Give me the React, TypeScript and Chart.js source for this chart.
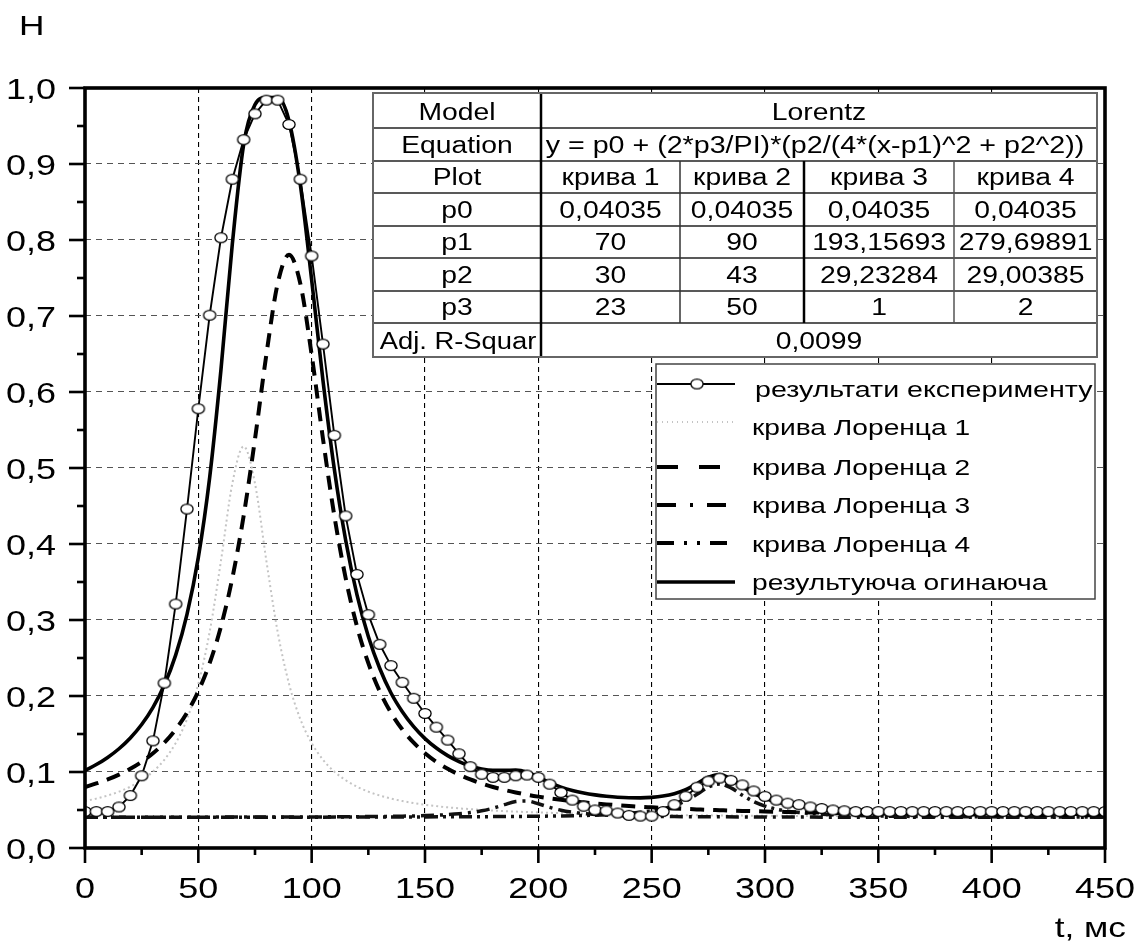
import React, { useEffect, useRef } from "react";
import { Chart, registerables } from "chart.js";

Chart.register(...registerables);

const FONT = '"Liberation Sans", Arial, Helvetica, sans-serif';
const SX = 1.26; // horizontal stretch of the reference lettering

// ---- data ----
const tGrid = [0,5,10,15,20,25,30,35,40,45,50,55,60,65,70,75,80,85,90,95,100,105,110,115,120,125,130,135,140,145,150,155,160,165,170,175,180,185,190,195,200,205,210,215,220,225,230,235,240,245,250,255,260,265,270,275,280,285,290,295,300,305,310,315,320,325,330,335,340,345,350,355,360,365,370,375,380,385,390,395,400,405,410,415,420,425,430,435,440,445,450];

const experimentH = [
  0.048,0.048,0.048,0.054,0.069,0.095,0.141,0.217,0.321,0.446,
  0.578,0.701,0.803,0.880,0.932,0.966,0.984,0.984,0.952,0.880,
  0.779,0.663,0.543,0.437,0.360,0.307,0.268,0.240,0.218,0.197,
  0.177,0.159,0.142,0.124,0.107,0.097,0.093,0.093,0.095,0.096,
  0.093,0.084,0.073,0.063,0.055,0.050,0.049,0.046,0.043,0.042,
  0.042,0.048,0.057,0.068,0.080,0.088,0.092,0.089,0.083,0.075,
  0.068,0.063,0.059,0.057,0.054,0.052,0.050,0.049,0.048,0.048,
  0.048,0.048,0.048,0.048,0.048,0.048,0.048,0.048,0.048,0.048,
  0.048,0.048,0.048,0.048,0.048,0.048,0.048,0.048,0.048,0.048,
  0.048
];

const lorentz1H = [
  0.0618,0.0650,0.0691,0.0741,0.0807,0.0892,0.1005,0.1161,0.1380,0.1695,
  0.2161,0.2844,0.3782,0.4796,0.5284,0.4796,0.3782,0.2844,0.2161,0.1695,
  0.1380,0.1161,0.1005,0.0892,0.0807,0.0741,0.0691,0.0650,0.0618,0.0591,
  0.0569,0.0551,0.0535,0.0522,0.0511,0.0501,0.0493,0.0485,0.0479,0.0473,
  0.0468,0.0463,0.0459,0.0455,0.0452,0.0449,0.0446,0.0444,0.0441,0.0439,
  0.0437,0.0436,0.0434,0.0432,0.0431,0.0430,0.0428,0.0427,0.0426,0.0425,
  0.0424,0.0423,0.0423,0.0422,0.0421,0.0420,0.0420,0.0419,0.0419,0.0418,
  0.0417,0.0417,0.0417,0.0416,0.0416,0.0415,0.0415,0.0415,0.0414,0.0414,
  0.0414,0.0413,0.0413,0.0413,0.0412,0.0412,0.0412,0.0412,0.0411,0.0411,
  0.0411
];

const lorentz2H = [
  0.0803,0.0849,0.0902,0.0966,0.1042,0.1134,0.1246,0.1385,0.1559,0.1779,
  0.2063,0.2432,0.2915,0.3551,0.4372,0.5382,0.6489,0.7426,0.7806,0.7426,
  0.6489,0.5382,0.4372,0.3551,0.2915,0.2432,0.2063,0.1779,0.1559,0.1385,
  0.1246,0.1134,0.1042,0.0966,0.0902,0.0849,0.0803,0.0764,0.0731,0.0701,
  0.0676,0.0654,0.0634,0.0616,0.0601,0.0587,0.0574,0.0563,0.0553,0.0543,
  0.0535,0.0527,0.0520,0.0514,0.0508,0.0502,0.0497,0.0492,0.0488,0.0484,
  0.0480,0.0477,0.0474,0.0471,0.0468,0.0465,0.0462,0.0460,0.0458,0.0456,
  0.0454,0.0452,0.0450,0.0449,0.0447,0.0445,0.0444,0.0443,0.0441,0.0440,
  0.0439,0.0438,0.0437,0.0436,0.0435,0.0434,0.0433,0.0432,0.0431,0.0431,
  0.0430
];

const lorentz3T = [0,50,100,120,130,140,145,150,155,160,165,170,175,180,185,190,195,200,205,210,215,220,225,230,235,240,250,260,280,300,350,400,450];
const lorentz3H = [0.0405,0.0406,0.0409,0.0412,0.0415,0.0419,0.0422,0.0426,0.0431,0.0439,0.0450,0.0466,0.0489,0.0524,0.0570,0.0612,0.0618,0.0582,0.0535,0.0497,0.0471,0.0453,0.0441,0.0433,0.0427,0.0423,0.0417,0.0413,0.0410,0.0408,0.0405,0.0405,0.0404];

const lorentz4T = [0,50,100,150,180,200,210,220,225,230,235,240,245,250,255,260,265,270,275,280,285,290,295,300,305,310,315,320,325,330,340,350,360,380,400,425,450];
const lorentz4H = [0.0405,0.0405,0.0406,0.0409,0.0413,0.0418,0.0422,0.0428,0.0432,0.0438,0.0445,0.0455,0.0469,0.0488,0.0516,0.0558,0.0620,0.0707,0.0801,0.0842,0.0791,0.0695,0.0611,0.0552,0.0512,0.0485,0.0467,0.0454,0.0444,0.0437,0.0428,0.0421,0.0417,0.0412,0.0410,0.0408,0.0407];

const envelopeH = [
  0.1020,0.1098,0.1192,0.1306,0.1448,0.1625,0.1851,0.2145,0.2538,0.3075,
  0.3824,0.4876,0.6299,0.7948,0.9258,0.9781,0.9874,0.9873,0.9570,0.8726,
  0.7474,0.6149,0.4983,0.4050,0.3330,0.2783,0.2365,0.2039,0.1793,0.1596,
  0.1439,0.1315,0.1215,0.1137,0.1079,0.1040,0.1022,0.1022,0.1025,0.0998,
  0.0933,0.0860,0.0801,0.0756,0.0723,0.0699,0.0681,0.0668,0.0661,0.0660,
  0.0666,0.0683,0.0715,0.0767,0.0846,0.0932,0.0967,0.0909,0.0807,0.0718,
  0.0653,0.0609,0.0578,0.0555,0.0538,0.0525,0.0515,0.0506,0.0499,0.0493,
  0.0488,0.0483,0.0479,0.0475,0.0472,0.0469,0.0466,0.0463,0.0461,0.0458,
  0.0456,0.0454,0.0453,0.0451,0.0449,0.0448,0.0446,0.0445,0.0444,0.0442,
  0.0441
];

// ---- ticks & labels ----
const xTicks = [0,50,100,150,200,250,300,350,400,450];
const xTickLabels = ["0","50","100","150","200","250","300","350","400","450"];
const xMinorTicks = [25,75,125,175,225,275,325,375,425];
const yTicks = [0,0.1,0.2,0.3,0.4,0.5,0.6,0.7,0.8,0.9,1.0];
const yTickLabels = ["0,0","0,1","0,2","0,3","0,4","0,5","0,6","0,7","0,8","0,9","1,0"];
const yMinorTicks = [0.05,0.15,0.25,0.35,0.45,0.55,0.65,0.75,0.85,0.95];
const xAxisTitle = "t, мс";
const yAxisTitle = "H";

const legendLabels = [
  "результати експерименту",
  "крива Лоренца 1",
  "крива Лоренца 2",
  "крива Лоренца 3",
  "крива Лоренца 4",
  "результуюча огинаюча",
];

// ---- fit table ----
const tableRowLabels = ["Model","Equation","Plot","p0","p1","p2","p3","Adj. R-Squar"];
const tableModel = "Lorentz";
const tableEquation = "y = p0 + (2*p3/PI)*(p2/(4*(x-p1)^2 + p2^2))";
const tablePlots = ["крива 1","крива 2","крива 3","крива 4"];
const tableP0 = ["0,04035","0,04035","0,04035","0,04035"];
const tableP1 = ["70","90","193,15693","279,69891"];
const tableP2 = ["30","43","29,23284","29,00385"];
const tableP3 = ["23","50","1","2"];
const tableAdjR = "0,0099";

const pts = (xs: number[], ys: number[]) => xs.map((x, i) => ({ x, y: ys[i] }));

function makeMarker(): HTMLCanvasElement {
  const c = document.createElement("canvas");
  c.width = 16;
  c.height = 13;
  const g = c.getContext("2d")!;
  g.beginPath();
  g.ellipse(8, 6.5, 6.1, 4.9, 0, 0, Math.PI * 2);
  g.fillStyle = "#fff";
  g.fill();
  g.lineWidth = 1.3;
  g.strokeStyle = "#000";
  g.stroke();
  return c;
}

function drawText(ctx: CanvasRenderingContext2D, s: string, x: number, y: number, align: string, size: number, sx: number = SX) {
  ctx.save();
  ctx.font = `${size}px ${FONT}`;
  ctx.textBaseline = "alphabetic";
  ctx.textAlign = "left";
  const w = ctx.measureText(s).width * sx;
  const x0 = align === "left" ? x : align === "right" ? x - w : x - w / 2;
  ctx.translate(x0, y);
  ctx.scale(sx, 1);
  ctx.fillStyle = "#000";
  ctx.fillText(s, 0, 0);
  ctx.restore();
}

function line(ctx: CanvasRenderingContext2D, x1: number, y1: number, x2: number, y2: number) {
  ctx.beginPath();
  ctx.moveTo(x1, y1);
  ctx.lineTo(x2, y2);
  ctx.stroke();
}

const decorPlugin = {
  id: "decor",
  afterDraw(chart: any) {
    const ctx: CanvasRenderingContext2D = chart.ctx;
    const { left, right, top, bottom } = chart.chartArea;
    const xs = chart.scales.x;
    const ys = chart.scales.y;
    ctx.save();
    ctx.setLineDash([]);
    ctx.strokeStyle = "#000";

    // ticks
    ctx.lineWidth = 2.6;
    yTicks.forEach((v) => { const p = ys.getPixelForValue(v); line(ctx, left - 16, p, left, p); });
    yMinorTicks.forEach((v) => { const p = ys.getPixelForValue(v); line(ctx, left - 8, p, left, p); });
    xTicks.forEach((v) => { const p = xs.getPixelForValue(v); line(ctx, p, bottom, p, bottom + 15); });
    xMinorTicks.forEach((v) => { const p = xs.getPixelForValue(v); line(ctx, p, bottom, p, bottom + 7); });

    // frame
    ctx.lineWidth = 3.6;
    ctx.strokeRect(left, top, right - left, bottom - top);

    // tick labels
    yTicks.forEach((v, i) => drawText(ctx, yTickLabels[i], left - 29, ys.getPixelForValue(v) + 10.5, "right", 29, 1.24));
    xTicks.forEach((v, i) => drawText(ctx, xTickLabels[i], xs.getPixelForValue(v), bottom + 50, "center", 29, 1.24));

    // axis titles
    drawText(ctx, yAxisTitle, 19, 35, "left", 28);
    drawText(ctx, xAxisTitle, 1126, 937, "right", 28);

    // ---- table ----
    const colX = [373, 541, 680, 804, 954, 1097];
    const rowY = [93, 128, 161, 193, 226, 258, 291, 323, 357];
    ctx.fillStyle = "#fff";
    ctx.fillRect(colX[0], rowY[0], colX[5] - colX[0], rowY[8] - rowY[0]);
    ctx.strokeStyle = "#222";
    ctx.lineWidth = 1.5;
    for (let r = 1; r < 8; r++) line(ctx, colX[0], rowY[r], colX[5], rowY[r]);
    ctx.lineWidth = 1.5;
    ctx.strokeStyle = "#333";
    line(ctx, colX[2], rowY[2], colX[2], rowY[7]);
    ctx.strokeStyle = "#555";
    line(ctx, colX[4], rowY[2], colX[4], rowY[7]);
    ctx.strokeStyle = "#000";
    ctx.lineWidth = 2.5;
    line(ctx, colX[3], rowY[2], colX[3], rowY[7]);

    const TS = 23;
    const TSX = 1.23;
    const base = (r: number) => rowY[r + 1] - 8.5;
    const cx = (c: number) => (colX[c] + colX[c + 1]) / 2;
    const spanC = (colX[1] + colX[5]) / 2;
    tableRowLabels.forEach((s, r) => drawText(ctx, s, cx(0) + (r === 7 ? 1 : 0), base(r), "center", TS, r === 7 ? 1.19 : TSX));
    drawText(ctx, tableModel, spanC, base(0), "center", TS, TSX);
    drawText(ctx, tableEquation, spanC - 4, base(1), "center", TS, 1.245);
    [tablePlots, tableP0, tableP1, tableP2, tableP3].forEach((row, k) => {
      row.forEach((s, c) => drawText(ctx, s, cx(c + 1), base(k + 2), "center", TS, TSX));
    });
    drawText(ctx, tableAdjR, spanC, base(7), "center", TS, TSX);

    ctx.strokeStyle = "#000";
    ctx.lineWidth = 2.5;
    line(ctx, colX[1], rowY[0], colX[1], rowY[8]);
    ctx.strokeStyle = "#666";
    ctx.lineWidth = 2;
    ctx.strokeRect(colX[0], rowY[0], colX[5] - colX[0], rowY[8] - rowY[0]);

    // ---- legend ----
    const lx0 = 656, lx1 = 1095, ly0 = 364, ly1 = 599;
    ctx.fillStyle = "#fff";
    ctx.fillRect(lx0, ly0, lx1 - lx0, ly1 - ly0);
    ctx.strokeStyle = "#444";
    ctx.lineWidth = 1.5;
    ctx.strokeRect(lx0, ly0, lx1 - lx0, ly1 - ly0);
    const sampleY = [384, 422, 467, 505, 543, 582];
    const textY = [397, 434.5, 475, 513, 551.5, 590];
    const sx0 = 657, sx1 = 735;
    const styles: Array<{ w: number; c: string; d: number[] }> = [
      { w: 2, c: "#000", d: [] },
      { w: 2, c: "#c4c4c4", d: [1, 4] },
      { w: 4, c: "#000", d: [21, 21] },
      { w: 4, c: "#000", d: [19, 14, 3, 14] },
      { w: 4, c: "#000", d: [17, 10, 3, 10, 3, 10] },
      { w: 3.5, c: "#000", d: [] },
    ];
    styles.forEach((st, i) => {
      ctx.save();
      ctx.strokeStyle = st.c;
      ctx.lineWidth = st.w;
      ctx.setLineDash(st.d);
      line(ctx, sx0, sampleY[i], sx1, sampleY[i]);
      ctx.restore();
      drawText(ctx, legendLabels[i], i === 0 ? 755 : 752, textY[i], "left", 22, i === 0 ? 1.3 : 1.28);
    });
    const mk = chart.$marker as HTMLCanvasElement;
    if (mk) ctx.drawImage(mk, 697 - mk.width / 2, sampleY[0] - mk.height / 2);

    ctx.restore();
  },
};

export default function App() {
  const ref = useRef<HTMLCanvasElement | null>(null);
  useEffect(() => {
    const canvas = ref.current;
    if (!canvas) return;
    const marker = makeMarker();
    const common = { showLine: true, pointRadius: 0, pointHoverRadius: 0, cubicInterpolationMode: "monotone" as const };
    const chart: any = new Chart(canvas, {
      type: "scatter",
      data: {
        datasets: [
          {
            label: legendLabels[0],
            data: pts(tGrid, experimentH),
            showLine: true,
            borderColor: "#000",
            borderWidth: 1.9,
            pointStyle: marker as any,
            pointRadius: 6,
            pointHoverRadius: 6,
            tension: 0,
          },
          { ...common, label: legendLabels[5], data: pts(tGrid, envelopeH), borderColor: "#000", borderWidth: 3.6 },
          { ...common, label: legendLabels[2], data: pts(tGrid, lorentz2H), borderColor: "#000", borderWidth: 4, borderDash: [14, 9] },
          { ...common, label: legendLabels[3], data: pts(lorentz3T, lorentz3H), borderColor: "#111", borderWidth: 3.5, borderDash: [13, 6, 3, 6] },
          { ...common, label: legendLabels[4], data: pts(lorentz4T, lorentz4H), borderColor: "#111", borderWidth: 3.5, borderDash: [13, 5, 3, 5, 3, 5] },
          { ...common, label: legendLabels[1], data: pts(tGrid, lorentz1H), borderColor: "#c4c4c4", borderWidth: 2, borderDash: [2, 3] },
        ],
      } as any,
      options: {
        animation: false,
        responsive: false,
        events: [],
        layout: { padding: { left: 0, right: 39, top: 88, bottom: 0 } },
        plugins: { legend: { display: false }, tooltip: { enabled: false } },
        scales: {
          x: {
            type: "linear",
            min: 0,
            max: 450,
            afterBuildTicks: (s: any) => { s.ticks = xTicks.map((v) => ({ value: v })); },
            afterFit: (s: any) => { s.height = 96; },
            ticks: { display: false },
            grid: { color: "#000", lineWidth: 1.1, drawTicks: false },
            border: { display: false, dash: [5, 4] },
          },
          y: {
            type: "linear",
            min: 0,
            max: 1,
            afterBuildTicks: (s: any) => { s.ticks = yTicks.map((v) => ({ value: v })); },
            afterFit: (s: any) => { s.width = 85; },
            ticks: { display: false },
            grid: { color: "#555", lineWidth: 1.1, drawTicks: false },
            border: { display: false, dash: [6, 5] },
          },
        },
      } as any,
      plugins: [decorPlugin as any],
    });
    chart.$marker = marker;
    chart.draw();
    return () => chart.destroy();
  }, []);
  return (
    <div style={{ position: "fixed", left: 0, top: 0, width: 1144, height: 944, background: "#fff" }}>
      <canvas ref={ref} width={1144} height={944} style={{ display: "block" }} />
    </div>
  );
}
